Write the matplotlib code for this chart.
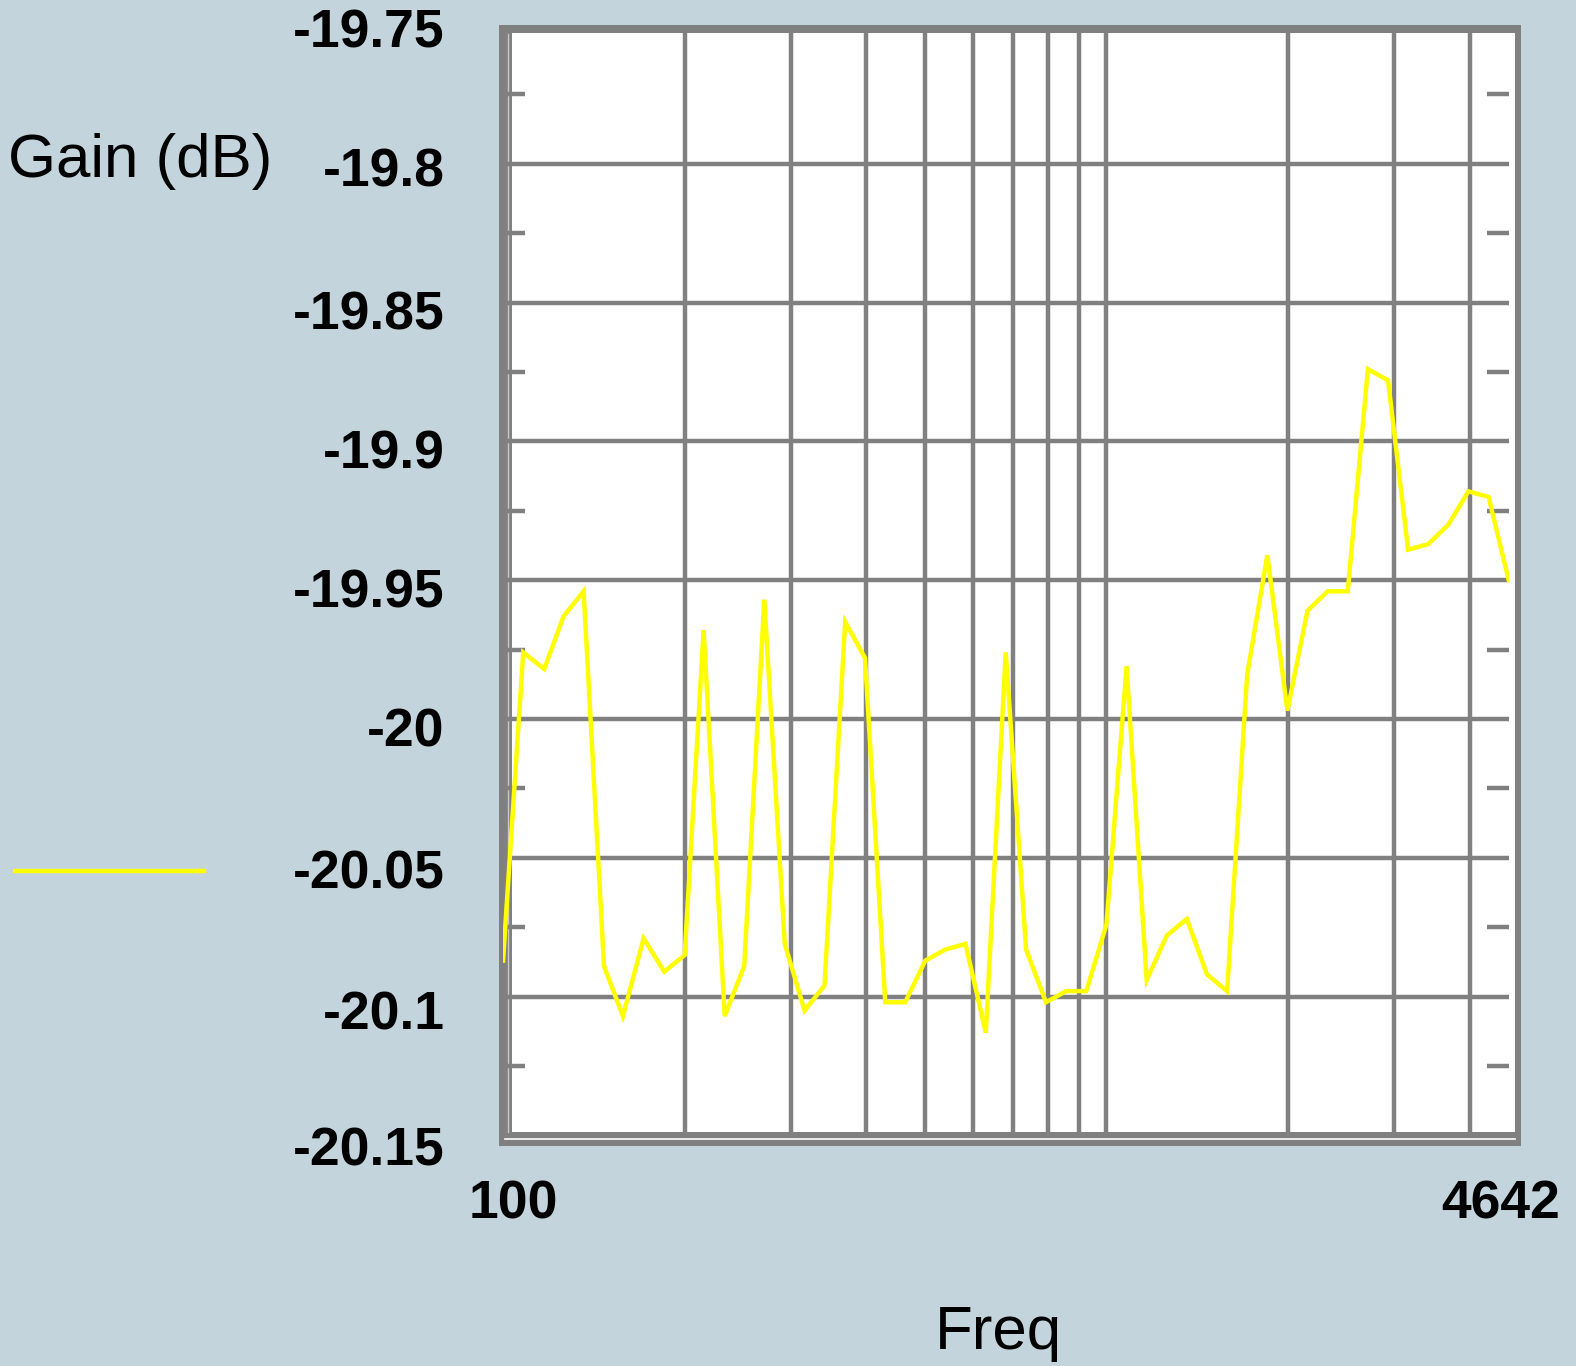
import matplotlib
matplotlib.use("Agg")
import matplotlib.pyplot as plt
from matplotlib.ticker import FixedLocator, FixedFormatter
from matplotlib.lines import Line2D
from matplotlib.patches import Rectangle
from matplotlib.transforms import ScaledTranslation

# Sweep frequencies (Hz), log spaced
freq = [100, 108, 117, 126, 136, 147, 158, 171, 185, 200,
        215, 233, 251, 271, 293, 316, 341, 369, 398, 430,
        464, 501, 541, 584, 631, 681, 736, 794, 858, 926,
        1000, 1080, 1166, 1259, 1359, 1468, 1585, 1711, 1848, 1995,
        2154, 2326, 2512, 2712, 2929, 3162, 3415, 3687, 3981, 4299,
        4642]

# Measured gain (dB)
gain = [-20.087, -19.976, -19.982, -19.963, -19.954, -20.089, -20.107, -20.079, -20.091, -20.085,
        -19.968, -20.107, -20.089, -19.957, -20.081, -20.105, -20.096, -19.965, -19.978, -20.102,
        -20.102, -20.087, -20.083, -20.081, -20.113, -19.976, -20.083, -20.102, -20.098, -20.098,
        -20.074, -19.981, -20.094, -20.078, -20.072, -20.092, -20.098, -19.984, -19.941, -19.997,
        -19.961, -19.954, -19.954, -19.874, -19.878, -19.939, -19.937, -19.930, -19.918, -19.920,
        -19.950]

x_tick_values = [100, 4642]
x_tick_labels = ["100", "4642"]
x_grid_values = [200, 300, 400, 500, 600, 700, 800, 900, 1000, 2000, 3000, 4000]

y_tick_values = [-19.75, -19.8, -19.85, -19.9, -19.95, -20.0, -20.05, -20.1, -20.15]
y_tick_labels = ["-19.75", "-19.8", "-19.85", "-19.9", "-19.95", "-20", "-20.05", "-20.1", "-20.15"]
y_minor_values = [-19.775, -19.825, -19.875, -19.925, -19.975, -20.025, -20.075, -20.125]

BG = "#C3D4DC"
GRID = "#808080"
LINE = "#FFFF00"
W, H = 1576, 1366

plt.rcParams["font.family"] = ["Liberation Sans", "DejaVu Sans"]

fig = plt.figure(figsize=(W / 100, H / 100), dpi=100, facecolor=BG)
ax = fig.add_axes([0.3192, 0.16874, 0.6381, 0.81303])
ax.patch.set_visible(False)

ax.plot(freq, gain, color=LINE, lw=3.2, zorder=3, solid_joinstyle="miter")

ax.set_xscale("log")
ax.set_xlim(100, 4642)
ax.set_ylim(-20.15, -19.75)

# Plot frame: grey bevelled border around a white plotting field
ax_px_w, ax_px_h = 1005.6, 1110.6
def ax_x(px):
    return (px - 503.0) / ax_px_w
def ax_y(py):
    return (1135.5 - py) / ax_px_h

outer = Rectangle((ax_x(499), ax_y(1145.7)), ax_x(1521) - ax_x(499), ax_y(25) - ax_y(1145.7),
                  transform=ax.transAxes, facecolor=GRID, edgecolor="none",
                  clip_on=False, zorder=0.1)
inner = Rectangle((ax_x(512), ax_y(1132)), ax_x(1515) - ax_x(512), ax_y(33) - ax_y(1132),
                  transform=ax.transAxes, facecolor="white", edgecolor="none",
                  clip_on=False, zorder=0.2)
ax.add_patch(outer)
ax.add_patch(inner)
ax.add_line(Line2D([ax_x(507.5), ax_x(507.5)], [ax_y(34), ax_y(1132)], transform=ax.transAxes,
                   color="#C8C8C8", lw=1.0, clip_on=False, zorder=0.3))
ax.add_line(Line2D([ax_x(505), ax_x(1515)], [ax_y(1138.6), ax_y(1138.6)], transform=ax.transAxes,
                   color="white", lw=1.2, clip_on=False, zorder=0.3))

ax.xaxis.set_major_locator(FixedLocator(x_tick_values))
ax.xaxis.set_major_formatter(FixedFormatter(x_tick_labels))
ax.xaxis.set_minor_locator(FixedLocator(x_grid_values))
ax.xaxis.set_minor_formatter(FixedFormatter([""] * len(x_grid_values)))

ax.yaxis.set_major_locator(FixedLocator(y_tick_values))
ax.yaxis.set_major_formatter(FixedFormatter(y_tick_labels))
ax.yaxis.set_minor_locator(FixedLocator(y_minor_values))

ax.grid(which="minor", axis="x", color=GRID, lw=3.2)
ax.grid(which="major", axis="y", color=GRID, lw=3.2, solid_capstyle="round")
ax.set_axisbelow(True)

ax.tick_params(axis="x", which="both", length=0)
ax.tick_params(axis="x", which="major", pad=30, labelsize=38.5)
ax.tick_params(axis="y", which="major", length=0, pad=42, labelsize=38.5)
ax.tick_params(axis="y", which="minor", direction="in", length=16, width=3.2,
               color=GRID, left=True, right=True)

for sp in ax.spines.values():
    sp.set_visible(False)

# Per-label vertical nudges (px, downward), in the order of y_tick_values
y_label_drop = [3, 3, 7, 8, 8, 8, 11, 13, 10]
for lbl, dy in zip(ax.get_yticklabels(), y_label_drop):
    lbl.set_fontweight("bold")
    lbl.set_transform(lbl.get_transform() + ScaledTranslation(0, -dy / 100, fig.dpi_scale_trans))
for lbl, dx in zip(ax.get_xticklabels(), [10, -8]):
    lbl.set_fontweight("bold")
    lbl.set_transform(lbl.get_transform() + ScaledTranslation(dx / 100, -2 / 100, fig.dpi_scale_trans))

fig.text(8 / W, 1 - 162 / H, "Gain (dB)", fontsize=44.5, ha="left", va="center")
fig.text(998 / W, 1 - 1333 / H, "Freq", fontsize=44.5, ha="center", va="center")

handle = Line2D([], [], color=LINE, lw=3.2)
fig.legend(handles=[handle], labels=[""], loc="center left",
           bbox_to_anchor=(15 / W, 1 - 872 / H), frameon=False,
           fontsize=10, handlelength=13.6, borderpad=0, borderaxespad=0,
           handletextpad=0)

fig.savefig("out.png", dpi=100, facecolor=BG)
